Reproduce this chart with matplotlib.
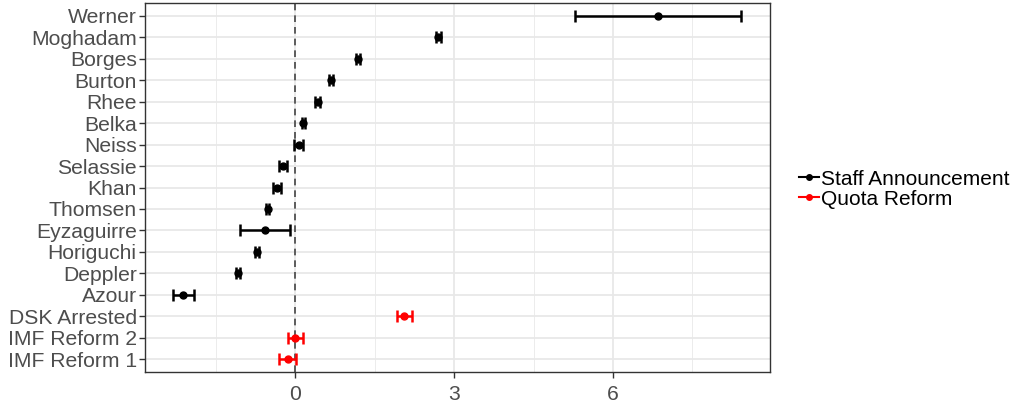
import matplotlib.pyplot as plt
from matplotlib.lines import Line2D

plt.rcParams['font.family'] = ['Liberation Sans', 'DejaVu Sans']

# events, top to bottom
events = ['Werner', 'Moghadam', 'Borges', 'Burton', 'Rhee', 'Belka', 'Neiss',
          'Selassie', 'Khan', 'Thomsen', 'Eyzaguirre', 'Horiguchi', 'Deppler',
          'Azour', 'DSK Arrested', 'IMF Reform 2', 'IMF Reform 1']
estimate = [6.85, 2.70, 1.18, 0.68, 0.42, 0.15, 0.06, -0.23, -0.35, -0.52,
            -0.58, -0.73, -1.08, -2.12, 2.06, 0.00, -0.14]
lower = [5.28, 2.65, 1.14, 0.64, 0.38, 0.12, -0.03, -0.31, -0.42, -0.55,
         -1.04, -0.77, -1.12, -2.31, 1.92, -0.14, -0.30]
upper = [8.41, 2.75, 1.22, 0.72, 0.46, 0.18, 0.15, -0.15, -0.28, -0.49,
         -0.11, -0.69, -1.04, -1.92, 2.20, 0.15, 0.01]
group = ['Staff Announcement'] * 14 + ['Quota Reform'] * 3
colors = {'Staff Announcement': 'black', 'Quota Reform': 'red'}

fig = plt.figure(figsize=(10.14, 4.0), dpi=100)
ax = fig.add_axes([0.143, 0.07, 0.616, 0.9225])

n = len(events)
ypos = [n - 1 - i for i in range(n)]

for y, e, lo, hi, g in zip(ypos, estimate, lower, upper, group):
    c = colors[g]
    ax.errorbar(e, y, xerr=[[e - lo], [hi - e]], fmt='o', color=c, ms=5,
                elinewidth=1.8, capsize=4.5, capthick=1.8, zorder=3)

ax.axvline(0, color='#444444', ls='--', lw=1.2, dashes=(4, 3), zorder=2)

ax.set_xlim(-2.84, 8.96)
ax.set_ylim(-0.6, n - 0.4)
ax.set_xticks([0, 3, 6])
ax.set_xticks([-1.5, 1.5, 4.5, 7.5], minor=True)
ax.set_yticks(ypos)
ax.set_yticklabels(events)
ax.grid(which='major', color='#e8e8e8', lw=1.3, zorder=0)
ax.grid(which='minor', axis='x', color='#ececec', lw=0.7, zorder=0)
ax.set_axisbelow(True)
ax.tick_params(which='major', length=4, width=1, color='#333333',
               labelsize=15.2, labelcolor='#4d4d4d', pad=2)
ax.tick_params(axis='x', which='major', pad=5)
ax.tick_params(which='minor', length=0)
for s in ax.spines.values():
    s.set_color('#333333')
    s.set_linewidth(1)

handles = [Line2D([], [], color=colors[g], marker='o', ms=4, lw=1.5)
           for g in ['Staff Announcement', 'Quota Reform']]
fig.legend(handles, ['Staff Announcement', 'Quota Reform'],
           loc='center left', bbox_to_anchor=(0.788, 0.527), frameon=False,
           fontsize=15, handlelength=0.95, handletextpad=0.12,
           labelspacing=0.05, borderaxespad=0, borderpad=0)

fig.savefig('out.png', dpi=100)
